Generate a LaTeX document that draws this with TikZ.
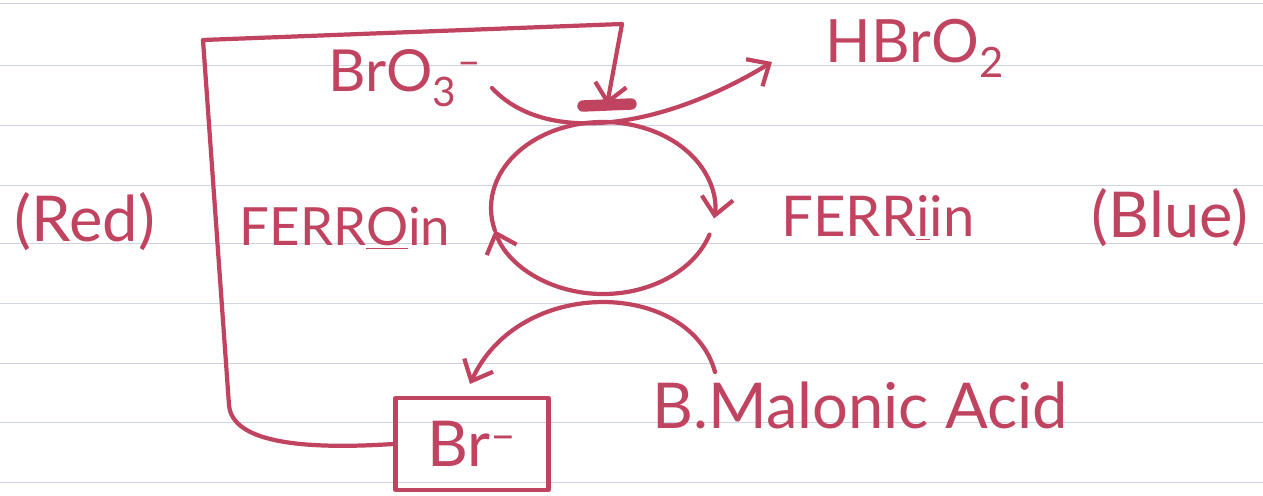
\documentclass[tikz,border=0pt]{standalone}
\usepackage{fontspec}
\setmainfont{Lato}
\usetikzlibrary{arrows.meta,calc}

\definecolor{ink}{RGB}{192,68,96}
\definecolor{ruling}{RGB}{206,211,228}

\begin{document}
\begin{tikzpicture}[x=0.02cm,y=-0.02cm,
  pen/.style={draw=ink,line width=2.4pt,line cap=round,line join=round},
  lbl/.style={text=ink,inner sep=0pt,font=\fontsize{30}{36}\selectfont},
  big/.style={lbl,font=\fontsize{36}{42}\selectfont},
  barb/.style={-{Straight Barb[length=10pt,width=18pt]}}]
%
% page and ruling
\useasboundingbox (0,0) rectangle (1263,496);
\fill[white] (0,0) rectangle (1263,496);
\foreach \ly in {3,65,125,185,243,303,363,422,482}
  \draw[ruling,line width=0.5pt] (0,\ly) -- (1263,\ly);
%
% labels
\node[big] (red) at (85,222) {(Red)};
\node[lbl] (ferroin) at (345,228) {FERR\underline{O}in};
\node[lbl,font=\fontsize{32}{38}\selectfont] (ferriin) at (878,218) {FERR\underline{i}in};
\node[big] (blue) at (1170,218) {(Blue)};
\node[lbl,font=\fontsize{33}{40}\selectfont] (bro) at (405,78) {BrO\textsubscript{3}\textsuperscript{--}};
\node[lbl,font=\fontsize{34}{40}\selectfont] (hbro) at (915,48) {HBrO\textsubscript{2}};
\node[big] (bma) at (860,405) {B.Malonic Acid};
\node[pen,big,minimum width=3.06cm,minimum height=1.84cm] (brm) at (472,444) {Br\textsuperscript{--}};
%
% ferroin / ferriin cycle
\coordinate (cyc) at (603,208);
\draw[pen,barb] ($(cyc)+(-90:112 and 86)$) arc[start angle=-90,end angle=7,x radius=112,y radius=86];
\draw[pen,barb] ($(cyc)+(18:112 and 86)$) arc[start angle=18,end angle=165,x radius=112,y radius=86];
\draw[pen] ($(cyc)+(165:112 and 86)$) arc[start angle=165,end angle=270,x radius=112,y radius=86];
%
% bromate in, HBrO2 out
\coordinate (taS) at (492,88);
\coordinate (taE) at (772,62);
\draw[pen,barb] (taS) .. controls (545,145) and (660,130) .. (taE);
%
% bromomalonic acid to bromide
\coordinate (baS) at (715,372);
\coordinate (baE) at (470,384);
\draw[pen,barb] (baS) .. controls (690,280) and (520,275) .. (baE);
%
% bromide feedback
\coordinate (fbk) at (607,105);
\draw[pen,barb] (brm.west) .. controls (300,450) and (232,442) .. (229,405) -- (203,40) -- (622,24) -- (fbk);
\draw[pen,line width=6.5pt] ($(fbk)+(-24,1)$) -- ($(fbk)+(24,-1)$);
%
\end{tikzpicture}
\end{document}
